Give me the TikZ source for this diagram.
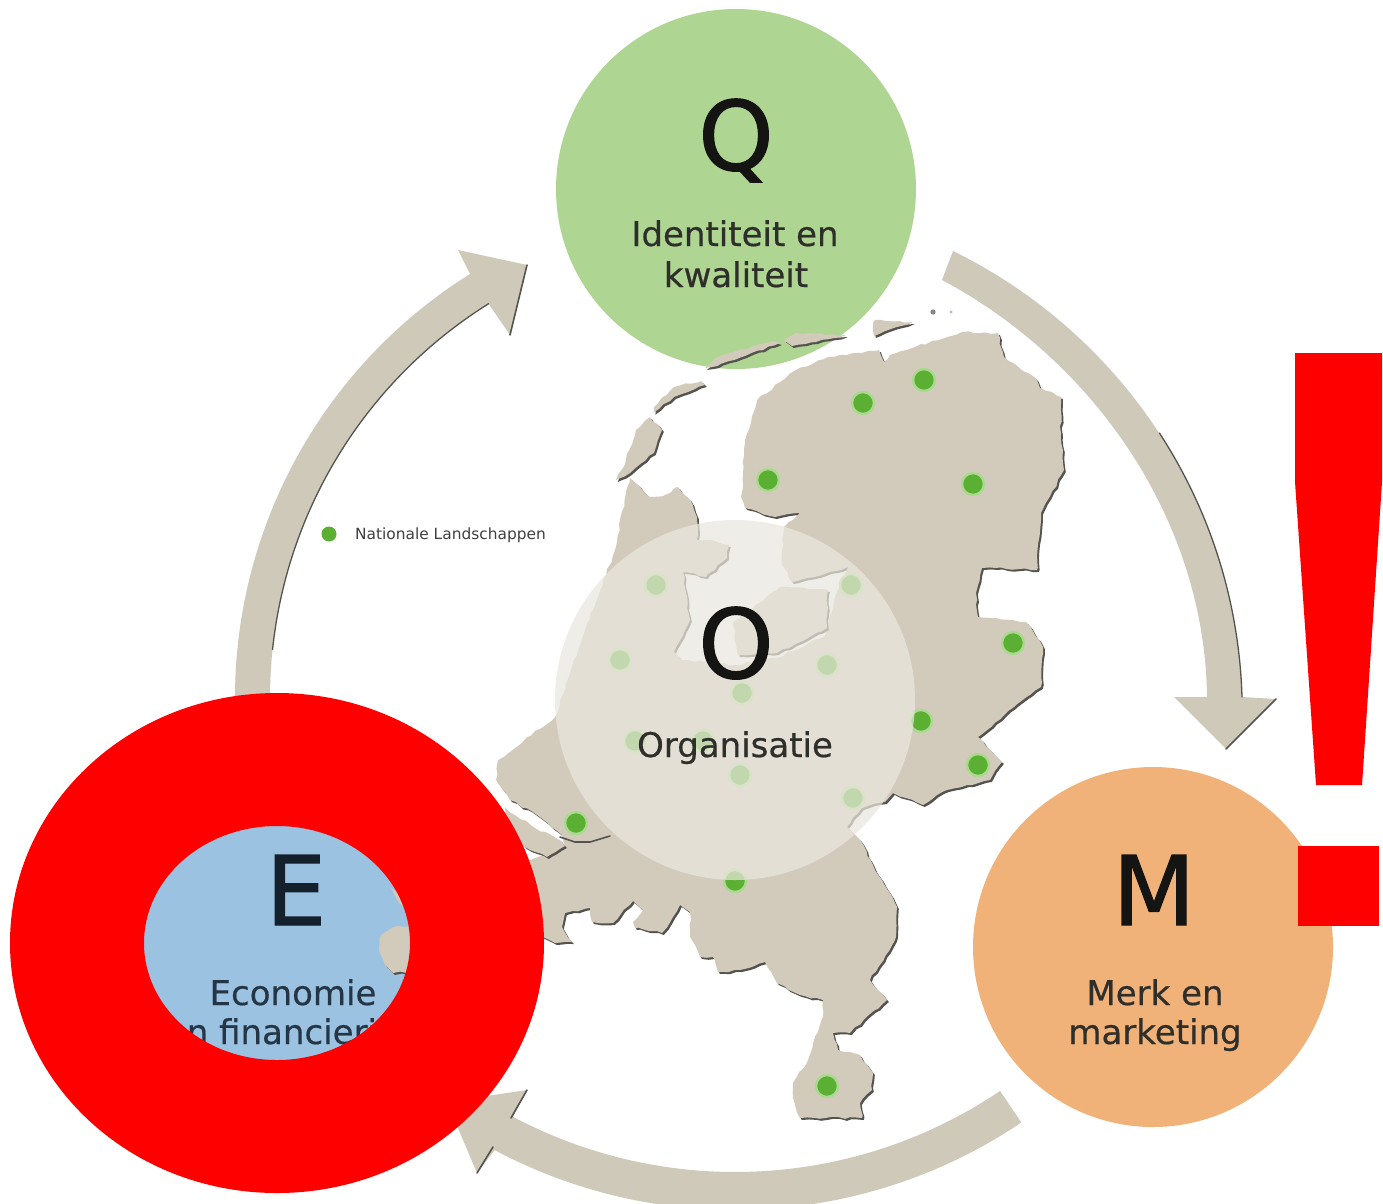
\documentclass[tikz,border=0pt]{standalone}
\usepackage{fontspec}
\setmainfont{DejaVu Sans}
\newfontfamily\bigletterfont[FakeBold=1.2]{DejaVu Sans}
\newfontfamily\labelfont[FakeBold=0.5]{DejaVu Sans}
\usetikzlibrary{decorations.pathmorphing}
\definecolor{landc}{HTML}{D2CBBC}
\definecolor{arrowc}{HTML}{CFC9BA}
\definecolor{shadowc}{HTML}{55534E}
\definecolor{qgreen}{HTML}{AED591}
\definecolor{morange}{HTML}{F1B27A}
\definecolor{eblue}{HTML}{9BC2E0}
\definecolor{ofill}{HTML}{EAE7DE}
\definecolor{dotc}{HTML}{5BB034}
\definecolor{haloc}{HTML}{ABD98F}
\definecolor{inktext}{HTML}{141412}
\definecolor{labtext}{HTML}{2E2E2A}
\definecolor{einktext}{HTML}{14202C}
\definecolor{elabtext}{HTML}{243646}
\tikzset{
  disc/.style={circle,minimum size=360pt,inner sep=0pt,draw=none},
  bigletter/.style={anchor=base,inner sep=0pt,font=\bigletterfont\fontsize{96}{96}\selectfont,text=inktext},
  lab/.style={anchor=base,inner sep=0pt,font=\labelfont\fontsize{34}{34}\selectfont,text=labtext},
  land/.style={fill=landc,decorate,decoration={random steps,segment length=6pt,amplitude=1.1pt},
    preaction={fill=shadowc,transform canvas={shift={(1.8pt,-2pt)}}}},
  blockarrow/.style={fill=arrowc},
  edgeshade/.style={draw=shadowc,line width=1.6pt,line cap=round},
  natdot/.style={circle,fill=dotc,draw=haloc,line width=2.4pt,minimum size=22pt,inner sep=0pt},
}
\begin{document}
\begin{tikzpicture}[x=1pt,y=1pt,yscale=-1]
\useasboundingbox (0,0) rectangle (1383,1203);
\clip (0,0) rectangle (1383,1203);
\fill[white] (0,0) rectangle (1383,1203);
% circles
\node[disc,fill=qgreen] (Q) at (736,189) {};
\node[disc,fill=morange] (M) at (1153,947) {};
\node[disc,fill=eblue] (E) at (293,947) {};
% block arrows
\coordinate (hub) at (735,698);
\fill[blockarrow] (953,251) .. controls (1124,335) and (1236,505) .. (1242,697)
  -- (1276,699) -- (1226,749) -- (1174,697) -- (1207,697)
  .. controls (1205,522) and (1096,362) .. (942,280) -- cycle;
\draw[edgeshade,line width=1.3pt] (1159.4,433) .. controls (1209.5,510) and (1239,600) .. (1242,697);
\draw[edgeshade] (1276,699) -- (1226,749);
\fill[blockarrow] (hub) ++(180:500) arc[start angle=180,end angle=238,radius=500]
  -- (458,250) -- (527,265) -- (510,335) -- (488.6,303.7)
  arc[start angle=238,end angle=180,radius=465] -- cycle;
\draw[edgeshade,line width=1.3pt] (488.6,303.7) arc[start angle=238,end angle=186,radius=465];
\draw[edgeshade] (510,335) -- (527,265);
\fill[blockarrow] (hub) ++(56:512) arc[start angle=56,end angle=118,radius=512]
  -- (477,1173) -- (447,1102) -- (527,1090) -- (512.5,1116.5)
  arc[start angle=118,end angle=56,radius=474] -- cycle;
\draw[edgeshade] (527,1090) -- (511,1118);
\draw[edgeshade] (493,1147) -- (477,1173);
% map: main land
\path[land] (630,478) -- (650,497) -- (665,495) -- (678,487) -- (690,500) -- (697,517) -- (697,540)
  -- (712,540) -- (729,545) -- (727,558) -- (706,577) -- (683,572) -- (690,620) -- (674,652)
  -- (682,660) -- (735,665) -- (777,658) -- (825,636) -- (836,594) -- (848,567) -- (792,582)
  -- (782,563) -- (784,527) -- (800,513) -- (775,517) -- (745,508) -- (741,497) -- (743,473)
  -- (745,440) -- (757,400) -- (796,370) -- (828,357) -- (879,350) -- (884,362) -- (890,355)
  -- (915,347) -- (962,332) -- (998,333) -- (1004,357) -- (1037,380) -- (1040,388) -- (1061,397)
  -- (1061,433) -- (1064,470) -- (1041,513) -- (1037,570) -- (982,568) -- (976,593) -- (978,617)
  -- (1026,622) -- (1043,647) -- (1041,687) -- (1014,707) -- (978,737) -- (1002,762) -- (990,780)
  -- (947,790) -- (923,805) -- (893,793) -- (885,802) -- (862,808) -- (847,827) -- (860,840)
  -- (873,865) -- (897,907) -- (895,940) -- (870,980) -- (887,1000) -- (850,1033) -- (833,1033)
  -- (838,1050) -- (860,1055) -- (873,1073) -- (872,1090) -- (860,1103) -- (862,1118) -- (800,1118)
  -- (793,1098) -- (793,1083) -- (808,1060) -- (823,1017) -- (823,1000) -- (800,995) -- (777,983)
  -- (765,962) -- (740,970) -- (718,972) -- (713,957) -- (700,957) -- (690,937) -- (690,912)
  -- (680,905) -- (673,917) -- (662,933) -- (635,928) -- (633,922) -- (643,910) -- (633,901)
  -- (613,923) -- (592,922) -- (590,908) -- (565,913) -- (562,927) -- (572,942) -- (555,943)
  -- (543,937) -- (470,960) -- (412,972) -- (393,973) -- (385,965) -- (379,950) -- (381,935)
  -- (393,927) -- (416,925) -- (440,900) -- (500,870) -- (530,860) -- (566,848) -- (562,835) -- (537,815)
  -- (510,800) -- (503,790) -- (496,780) -- (498,760) -- (555,717) -- (585,630) -- (614,553) -- cycle;
% map: Flevoland, islands
\path[land] (780,587) -- (828,590) -- (827,628) -- (777,653) -- (738,655) -- (733,622) -- cycle;
\path[land] (505,808) -- (535,828) -- (560,840) -- (565,846) -- (547,857) -- (525,847) -- (505,825) -- cycle;
\path[land] (650,417) -- (662,430) -- (654,453) -- (630,473) -- (616,480) -- (626,460) -- (636,430) -- cycle;
\path[land] (654,407) -- (674,387) -- (701,381) -- (705,385) -- (674,397) -- (657,410) -- cycle;
\path[land] (705,368) -- (717,357) -- (773,341) -- (780,343) -- (745,356) -- (712,367) -- cycle;
\path[land] (784,340) -- (796,333) -- (846,335) -- (816,342) -- (792,346) -- cycle;
\path[land] (873,323) -- (875,320) -- (913,322) -- (874,336) -- cycle;
\fill[landc] (391,888) -- (404,897) -- (410,910) -- (399,903) -- cycle;
\fill[shadowc!70!white] (933,312) circle[radius=2.6];
\fill[shadowc!40!white] (951,312) circle[radius=1.6];
\draw[edgeshade] (560,837) -- (575,842) -- (590,842) -- (610,836);
% dots
\node[natdot] (d1) at (924,380) {};
\node[natdot] (d2) at (863,403) {};
\node[natdot] (d3) at (768,480) {};
\node[natdot] (d4) at (973,484) {};
\node[natdot] (d5) at (1013,643) {};
\node[natdot] (d6) at (921,721) {};
\node[natdot] (d7) at (978,765) {};
\node[natdot] (d8) at (853,798) {};
\node[natdot] (d9) at (576,823) {};
\node[natdot] (d10) at (735,881) {};
\node[natdot] (d11) at (827,1086) {};
\node[natdot] (d12) at (656,585) {};
\node[natdot] (d13) at (851,585) {};
\node[natdot] (d14) at (620,660) {};
\node[natdot] (d15) at (827,665) {};
\node[natdot] (d16) at (742,693) {};
\node[natdot] (d17) at (635,741) {};
\node[natdot] (d18) at (703,741) {};
\node[natdot] (d19) at (740,775) {};
% translucent centre circle
\node[disc,fill=ofill,fill opacity=.72] (O) at (735,700) {};
% legend
\node[circle,fill=dotc,minimum size=15pt,inner sep=0pt] (legdot) at (329,534) {};
\node[anchor=west,inner sep=0pt,font=\fontsize{15.4}{16}\selectfont,text=black!75] (legtext) at (355,535) {Nationale Landschappen};
% texts
\node[bigletter] (tQ) at (736,170) {Q};
\node[lab] (tQ1) at (735,246) {Identiteit en};
\node[lab] (tQ2) at (736,287) {kwaliteit};
\node[bigletter] (tO) at (736,678) {O};
\node[lab] (tO1) at (735,757) {Organisatie};
\node[bigletter] (tM) at (1154,925) {M};
\node[lab] (tM1) at (1155,1005) {Merk en};
\node[lab] (tM2) at (1155,1044) {marketing};
\node[bigletter,text=einktext] (tE) at (296,925) {E};
\node[lab,text=elabtext] (tE1) at (293,1005) {Economie};
\node[lab,text=elabtext] (tE2) at (293,1044) {en financiering};
% red overlay
\fill[red,even odd rule] (277,943) ellipse[x radius=267,y radius=250]
  (277,943) ellipse[x radius=133,y radius=117];
\fill[red] (1295,353) -- (1382,353) -- (1382,482) -- (1362,785) -- (1316,785) -- (1295,482) -- cycle;
\fill[red] (1298,846) rectangle (1379,926);
\end{tikzpicture}
\end{document}
